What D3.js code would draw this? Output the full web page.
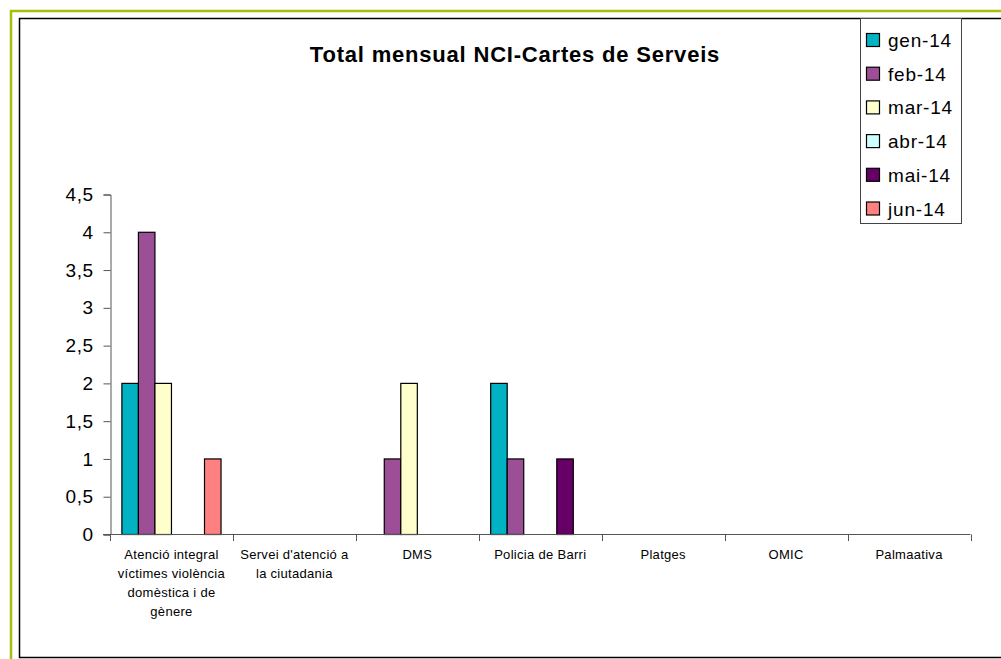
<!DOCTYPE html>
<html><head><meta charset="utf-8">
<script src="https://cdn.jsdelivr.net/npm/d3@7"></script>
<style>body{margin:0;background:#fff}svg{display:block;font-family:"Liberation Sans",Arial,sans-serif}</style>
</head><body><svg id="c" width="1001" height="659"></svg>
<script>
const categories = [
  "Atenció integral\nvíctimes violència\ndomèstica i de\ngènere",
  "Servei d'atenció a\nla ciutadania",
  "DMS",
  "Policia de Barri",
  "Platges",
  "OMIC",
  "Palmaativa"
];
const seriesNames = ["gen-14","feb-14","mar-14","abr-14","mai-14","jun-14"];
const seriesColors = ["#00B2C2","#9C4F96","#FFFFCC","#CCFFFF","#660066","#FF8080"];
const gen14 = [2,0,0,2,0,0,0];
const feb14 = [4,0,1,1,0,0,0];
const mar14 = [2,0,2,0,0,0,0];
const abr14 = [0,0,0,0,0,0,0];
const mai14 = [0,0,0,1,0,0,0];
const jun14 = [1,0,0,0,0,0,0];
const yTicks = [0,0.5,1,1.5,2,2.5,3,3.5,4,4.5];
const titleText = "Total mensual NCI-Cartes de Serveis";

const values = [gen14,feb14,mar14,abr14,mai14,jun14];
const svg = d3.select("#c");

// outer frames
svg.append("rect").attr("x",11).attr("y",11).attr("width",1000).attr("height",700)
  .attr("fill","none").attr("stroke","#A9BD0B").attr("stroke-width",2.5);
svg.append("rect").attr("x",19.5).attr("y",18.5).attr("width",1000).attr("height",639)
  .attr("fill","#fff").attr("stroke","#000").attr("stroke-width",1.5);

const x0 = d3.scaleBand().domain(d3.range(categories.length)).range([110,970.5]).padding(0);
const x1 = d3.scaleBand().domain(d3.range(seriesNames.length)).range([0,x0.bandwidth()]).paddingInner(0).paddingOuter(0.72);
const y = d3.scaleLinear().domain([0,4.5]).range([534.5,194.5]);

// title
svg.append("text").attr("x",515).attr("y",62).attr("text-anchor","middle")
  .attr("font-weight","bold").attr("font-size",22).attr("letter-spacing",0.8).text(titleText);

// bars
const data = [];
values.forEach((s,si)=>s.forEach((v,ci)=>{ if(v>0) data.push({si,ci,v}); }));
svg.append("g").selectAll("rect").data(data).join("rect")
  .attr("x",d=>x0(d.ci)+x1(d.si))
  .attr("y",d=>y(d.v))
  .attr("width",x1.bandwidth())
  .attr("height",d=>y(0)-y(d.v))
  .attr("fill",d=>seriesColors[d.si])
  .attr("stroke","#000").attr("stroke-width",1.2);

// y axis
const yAxis = d3.axisLeft(y).tickValues(yTicks).tickSize(7).tickPadding(10)
  .tickFormat(d=>String(d).replace(".",","));
const ga = svg.append("g").attr("transform","translate(110.5,0)").call(yAxis);
ga.selectAll("path,line").attr("stroke","#555");
ga.selectAll("text").attr("font-size",19).attr("letter-spacing",0.5).attr("fill","#000").attr("font-family","Liberation Sans, Arial, sans-serif");

// x axis line and boundary ticks
const bounds = d3.range(categories.length+1).map(i=> i<categories.length ? x0(i) : x0.range()[1]);
svg.append("line").attr("x1",103).attr("x2",970.5).attr("y1",534.5).attr("y2",534.5).attr("stroke","#555");
svg.append("g").selectAll("line").data(bounds).join("line")
  .attr("x1",d=>Math.round(d)+0.5).attr("x2",d=>Math.round(d)+0.5)
  .attr("y1",534.5).attr("y2",541).attr("stroke","#555");

// category labels
const lab = svg.append("g").selectAll("text").data(categories).join("text")
  .attr("text-anchor","middle").attr("font-size",13).attr("letter-spacing",0.3)
  .attr("transform",(d,i)=>`translate(${x0(i)+x0.bandwidth()/2},559)`);
lab.each(function(d){
  const t = d3.select(this);
  d.split("\n").forEach((ln,k)=>t.append("tspan").attr("x",0).attr("y",k*19).text(ln));
});

// legend
const lg = svg.append("g");
lg.append("rect").attr("x",860.5).attr("y",18.5).attr("width",101).attr("height",205)
  .attr("fill","#fff").attr("stroke","#444").attr("stroke-width",1);
const items = lg.selectAll("g.it").data(seriesNames).join("g").attr("class","it")
  .attr("transform",(d,i)=>`translate(866,${40+i*33.7})`);
items.append("rect").attr("x",0.5).attr("y",-6.5).attr("width",13).attr("height",13)
  .attr("fill",(d,i)=>seriesColors[i]).attr("stroke","#000").attr("stroke-width",1.2);
items.append("text").attr("x",22).attr("y",7).attr("font-size",19).attr("letter-spacing",0.8).text(d=>d);
</script></body></html>
